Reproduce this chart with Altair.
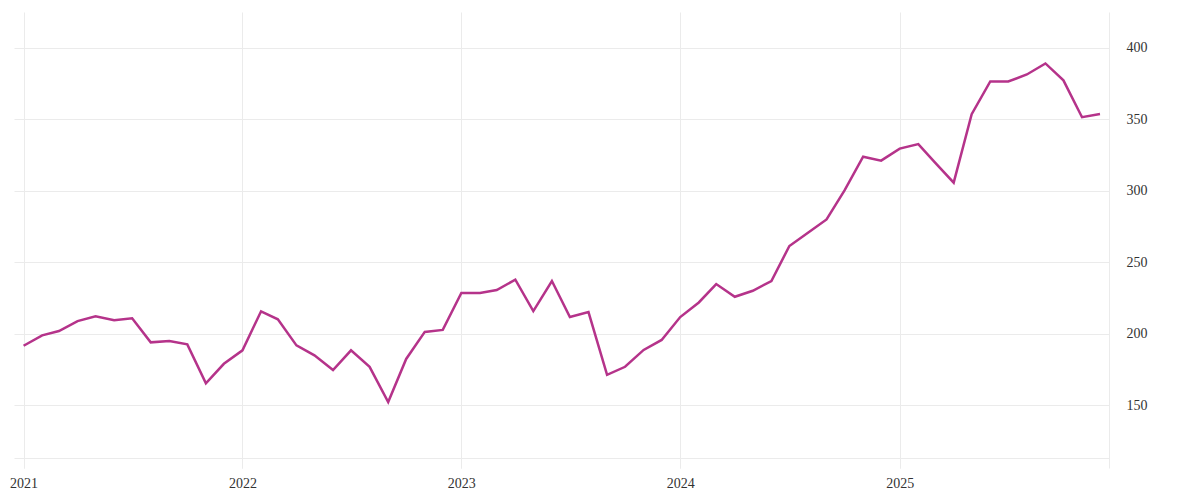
import altair as alt
import pandas as pd

months = [f"{y}-{m:02d}-01T00:00:00" for y in range(2021, 2026) for m in range(1, 13)]
values = [
    191.5, 198.8, 201.8, 208.8, 212.1, 209.3, 210.7, 193.9, 194.8, 192.5, 165.2, 178.9,
    188.3, 215.6, 210.0, 191.8, 184.8, 174.5, 188.3, 176.8, 152.1, 182.3, 201.2, 202.6,
    228.4, 228.4, 230.5, 237.7, 215.8, 236.8, 211.6, 215.1, 171.2, 176.8, 188.6, 195.6,
    211.6, 221.8, 234.7, 225.8, 230.0, 236.8, 261.3, 270.6, 279.9, 300.2, 323.8, 321.0,
    329.4, 332.6, 319.6, 305.6, 353.5, 376.4, 376.4, 381.3, 389.0, 377.2, 351.4, 353.7,
]
year_ticks = [2021, 2022, 2023, 2024, 2025]
y_ticks = [150, 200, 250, 300, 350, 400]

df = pd.DataFrame({"date": months, "value": values})

GRID = "#ebebeb"
FONT = "Liberation Serif"

chart = alt.Chart(df).mark_line(color="#b5338a", strokeWidth=2.5).encode(
    x=alt.X(
        "date:T",
        title=None,
        scale=alt.Scale(domain=[alt.DateTime(year=2020, month=12, date=16),
                                alt.DateTime(year=2025, month=12, date=16)]),
        axis=alt.Axis(
            values=[alt.DateTime(year=y, month=1, date=1) for y in year_ticks],
            format="%Y",
            grid=True, gridColor=GRID, gridWidth=1,
            domain=True, domainColor=GRID, domainWidth=1,
            ticks=True, tickColor=GRID, tickSize=10,
            offset=-10,
            labelPadding=8, labelFont=FONT, labelFontSize=14, labelColor="#333333",
        ),
    ),
    y=alt.Y(
        "value:Q",
        title=None,
        scale=alt.Scale(domain=[106, 425], nice=False, zero=False),
        axis=alt.Axis(
            orient="right",
            values=y_ticks,
            grid=True, gridColor=GRID, gridWidth=1,
            domain=True, domainColor=GRID, domainWidth=1,
            ticks=False, tickSize=0,
            labelPadding=17, labelFont=FONT, labelFontSize=14, labelColor="#333333",
        ),
    ),
).properties(
    width=1095,
    height=456,
    padding={"left": 1, "top": 4, "right": 5, "bottom": 5},
    background="white",
).configure_view(stroke=None)

chart.save("out.html", embed_options={"renderer": "svg", "actions": False})
